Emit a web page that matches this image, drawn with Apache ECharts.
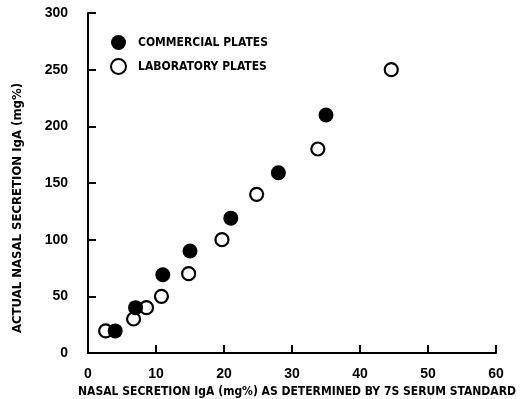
<!DOCTYPE html>
<html>
<head>
<meta charset="utf-8">
<script src="https://cdn.jsdelivr.net/npm/echarts@6/dist/echarts.min.js"></script>
<style>html,body{margin:0;padding:0;background:#fff;}#c{width:523px;height:399px;}</style>
</head>
<body>
<div id="c"></div>
<script>
// Commercial plates (filled)
var commercialX = [4, 7, 11, 15, 21, 28, 35];
var commercialY = [19.5, 40, 69, 90, 119, 159, 210];
// Laboratory plates (open)
var laboratoryX = [2.6, 6.7, 8.6, 10.8, 14.8, 19.7, 24.8, 33.8, 44.6];
var laboratoryY = [19.5, 30, 40, 50, 70, 100, 140, 180, 250];
var xTicks = [0, 10, 20, 30, 40, 50, 60];
var yTicks = [0, 50, 100, 150, 200, 250, 300];
var seriesNames = ['COMMERCIAL PLATES', 'LABORATORY PLATES'];
var xTitle = 'NASAL SECRETION IgA (mg%) AS DETERMINED BY 7S SERUM STANDARD';
var yTitle = 'ACTUAL NASAL SECRETION IgA (mg%)';

function pairs(xs, ys) { return xs.map(function (x, i) { return [x, ys[i]]; }); }

var FONT = "'DejaVu Sans Condensed', 'Liberation Sans Narrow', sans-serif";
var chart = echarts.init(document.getElementById('c'), null, { renderer: 'canvas' });
chart.setOption({
  backgroundColor: '#fff',
  animation: false,
  grid: { left: 88, right: 27, top: 13, bottom: 46, containLabel: false, outerBoundsMode: 'none' },
  legend: {
    orient: 'vertical', left: 105, top: 30, itemWidth: 15, itemHeight: 15, itemGap: 8,
    textStyle: { fontFamily: FONT, fontWeight: 'bold', fontSize: 12, color: '#000', padding: [0, 0, 0, 7] },
    data: [
      { name: seriesNames[0], icon: 'circle' },
      { name: seriesNames[1], icon: 'circle' }
    ]
  },
  xAxis: {
    type: 'value', min: xTicks[0], max: xTicks[xTicks.length - 1], interval: 10,
    name: xTitle, nameLocation: 'middle', nameGap: 30,
    nameTextStyle: { fontFamily: FONT, fontWeight: 'bold', fontSize: 12, color: '#000', padding: [0, 0, 0, 10] },
    axisLine: { lineStyle: { color: '#000', width: 2 } },
    axisTick: { inside: true, length: 8, lineStyle: { color: '#000', width: 2 } },
    axisLabel: { margin: 14, fontFamily: "'Liberation Sans', sans-serif", fontWeight: 'bold', fontSize: 14, color: '#000' },
    splitLine: { show: false }
  },
  yAxis: {
    type: 'value', min: yTicks[0], max: yTicks[yTicks.length - 1], interval: 50,
    name: yTitle, nameLocation: 'middle', nameGap: 64, nameRotate: 90,
    nameTextStyle: { fontFamily: FONT, fontWeight: 'bold', fontSize: 13, color: '#000', padding: [0, 50, 0, 0] },
    axisLine: { lineStyle: { color: '#000', width: 2 } },
    axisTick: { inside: true, length: 8, lineStyle: { color: '#000', width: 2 } },
    axisLabel: { margin: 20, fontFamily: "'Liberation Sans', sans-serif", fontWeight: 'bold', fontSize: 14, color: '#000' },
    splitLine: { show: false }
  },
  series: [
    {
      name: seriesNames[0], type: 'scatter', symbol: 'circle', symbolSize: 15,
      itemStyle: { color: '#000', borderColor: '#000', borderWidth: 0, opacity: 1 },
      data: pairs(commercialX, commercialY), z: 3
    },
    {
      name: seriesNames[1], type: 'scatter', symbol: 'circle', symbolSize: 13,
      itemStyle: { color: '#fff', borderColor: '#000', borderWidth: 2.2, opacity: 1 },
      data: pairs(laboratoryX, laboratoryY), z: 2
    }
  ]
});
</script>
</body>
</html>
